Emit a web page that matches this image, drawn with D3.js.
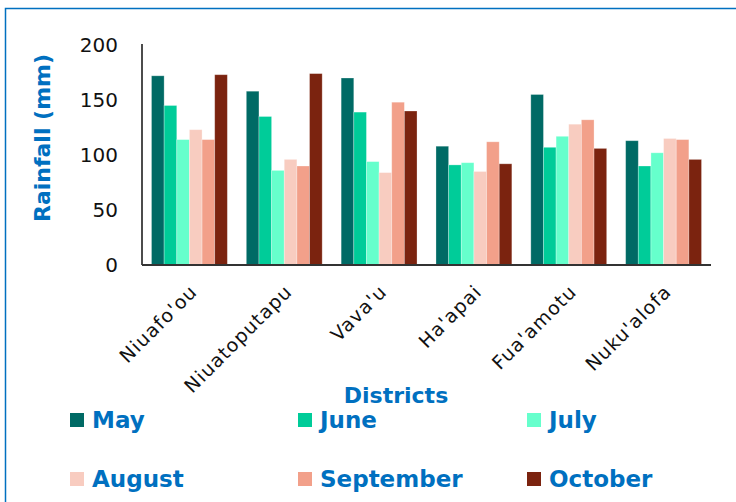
<!DOCTYPE html>
<html>
<head>
<meta charset="utf-8">
<script src="https://cdn.jsdelivr.net/npm/d3@7"></script>
<style>
  html, body { margin: 0; padding: 0; background: #fff; }
  svg { display: block; }
</style>
</head>
<body>
<svg id="chart" width="736" height="502"></svg>
<script>
const districts = ["Niuafo'ou", "Niuatoputapu", "Vava'u", "Ha'apai", "Fua'amotu", "Nuku'alofa"];
const months = ["May", "June", "July", "August", "September", "October"];
const may       = [172, 158, 170, 108, 155, 113];
const june      = [145, 135, 139, 91, 107, 90];
const july      = [114, 86, 94, 93, 117, 102];
const august    = [123, 96, 84, 85, 128, 115];
const september = [114, 90, 148, 112, 132, 114];
const october   = [173, 174, 140, 92, 106, 96];
const yTicks = [0, 50, 100, 150, 200];
const colors = ["#006A65", "#00CC99", "#66FFCC", "#F8CCC0", "#F2A08A", "#7B230F"];

const seriesValues = [may, june, july, august, september, october];
const blue = "#0070C0";
const svg = d3.select("#chart");

// frame
svg.append("path").attr("d", "M5.5,502 L5.5,8.5 L736,8.5")
  .attr("fill", "none").attr("stroke", blue).attr("stroke-width", 1.5);

const pLeft = 142, pRight = 711, pTop = 45, pBottom = 265;
const x = d3.scaleBand().domain(districts).range([pLeft, pRight]).paddingInner(0.2).paddingOuter(0.1);
const xs = d3.scaleBand().domain(months).range([0, x.bandwidth()]);
const y = d3.scaleLinear().domain([0, 200]).range([pBottom, pTop]);

// bars
districts.forEach((dName, i) => {
  const g = svg.append("g").attr("transform", `translate(${x(dName)},0)`);
  months.forEach((m, j) => {
    const v = seriesValues[j][i];
    g.append("rect")
      .attr("x", xs(m)).attr("y", y(v))
      .attr("width", xs.bandwidth()).attr("height", y(0) - y(v))
      .attr("fill", colors[j])
      .attr("stroke", "rgba(255,255,255,0.35)").attr("stroke-width", 0.8);
  });
});

// y axis
const yAxis = svg.append("g").attr("transform", `translate(${pLeft},0)`)
  .call(d3.axisLeft(y).tickValues(yTicks).tickSize(0).tickPadding(24));
yAxis.select(".domain").attr("stroke", "#111").attr("stroke-width", 1.5).attr("d", `M0,${pTop - 1}V${pBottom}`);
yAxis.selectAll("text").attr("font-family", "DejaVu Sans, sans-serif").attr("font-size", 20).attr("fill", "#111");

// x axis
const xAxis = svg.append("g").attr("transform", `translate(0,${pBottom})`)
  .call(d3.axisBottom(x).tickSize(0).tickFormat(() => ""));
xAxis.select(".domain").attr("stroke", "#333").attr("stroke-width", 2.2).attr("d", `M${pLeft},0H${pRight}`);

svg.append("g").selectAll("text").data(districts).join("text")
  .attr("transform", d => `translate(${x(d) + x.bandwidth() / 2 + 9},${pBottom + 28}) rotate(-45)`)
  .attr("text-anchor", "end")
  .attr("font-family", "DejaVu Sans, sans-serif")
  .attr("font-size", 19).attr("fill", "#111")
  .attr("letter-spacing", 1.1)
  .text(d => d);

// axis titles
svg.append("text")
  .attr("transform", `translate(50,138) rotate(-90)`)
  .attr("text-anchor", "middle")
  .attr("font-family", "DejaVu Sans, sans-serif").attr("font-weight", "bold")
  .attr("font-size", 22).attr("fill", blue)
  .text("Rainfall (mm)");

svg.append("text")
  .attr("x", 396).attr("y", 403)
  .attr("text-anchor", "middle")
  .attr("font-family", "DejaVu Sans, sans-serif").attr("font-weight", "bold")
  .attr("font-size", 22).attr("fill", blue)
  .text("Districts");

// legend
const legX = [70, 298, 527], legY = [428, 487];
const leg = svg.append("g").selectAll("g").data(months).join("g")
  .attr("transform", (d, i) => `translate(${legX[i % 3]},${legY[Math.floor(i / 3)]})`);
leg.append("rect").attr("x", 0).attr("y", -15).attr("width", 14).attr("height", 14)
  .attr("fill", (d, i) => colors[i]);
leg.append("text").attr("x", 22).attr("y", 0)
  .attr("font-family", "DejaVu Sans, sans-serif").attr("font-weight", "bold")
  .attr("font-size", 23).attr("fill", blue)
  .text(d => d);
</script>
</body>
</html>
